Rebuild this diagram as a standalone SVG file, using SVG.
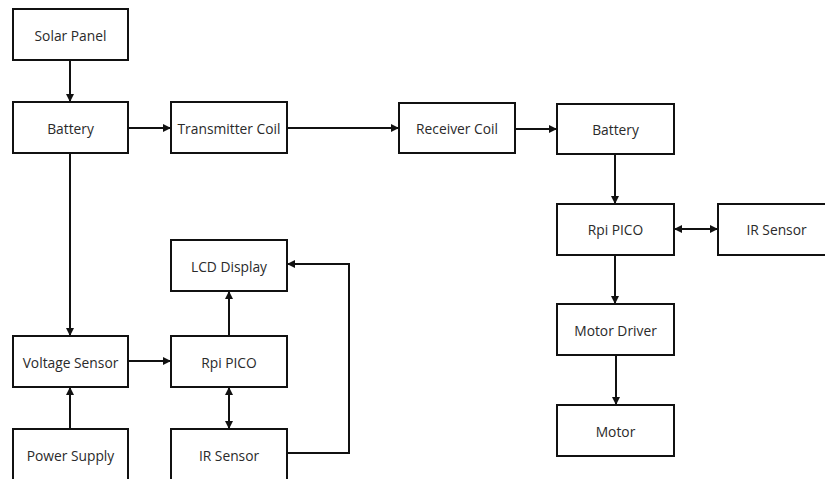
<svg xmlns="http://www.w3.org/2000/svg" width="825" height="479" viewBox="0 0 825 479">
  <style>
    .box { fill: #ffffff; stroke: #111111; stroke-width: 2; }
    .lbl { font-family: "Open Sans", "Liberation Sans", sans-serif; font-size: 13.8px; fill: #2a2a2a; text-anchor: middle; dominant-baseline: central; }
    .con { fill: none; stroke: #111111; stroke-width: 2; }
  </style>
  <defs>
    <marker id="ah" markerUnits="userSpaceOnUse" viewBox="0 0 8 8" refX="8" refY="4" markerWidth="8" markerHeight="8" orient="auto-start-reverse">
      <path d="M0,0 L8,4 L0,8 z" fill="#111111"/>
    </marker>
  </defs>
  <rect width="825" height="479" fill="#ffffff"/>

  <g id="connectors">
    <line class="con" x1="70" y1="60" x2="70" y2="102" marker-end="url(#ah)"/>
    <line class="con" x1="128" y1="128" x2="171" y2="128" marker-end="url(#ah)"/>
    <line class="con" x1="287" y1="128" x2="399" y2="128" marker-end="url(#ah)"/>
    <line class="con" x1="515" y1="129" x2="557" y2="129" marker-end="url(#ah)"/>
    <line class="con" x1="615" y1="154" x2="615" y2="204" marker-end="url(#ah)"/>
    <line class="con" x1="674" y1="229" x2="718" y2="229" marker-start="url(#ah)" marker-end="url(#ah)"/>
    <line class="con" x1="615" y1="255" x2="615" y2="304" marker-end="url(#ah)"/>
    <line class="con" x1="616" y1="355" x2="616" y2="405" marker-end="url(#ah)"/>
    <line class="con" x1="70" y1="153" x2="70" y2="336" marker-end="url(#ah)"/>
    <line class="con" x1="128" y1="361" x2="171" y2="361" marker-end="url(#ah)"/>
    <line class="con" x1="229" y1="336" x2="229" y2="291" marker-end="url(#ah)"/>
    <line class="con" x1="229" y1="387" x2="229" y2="429" marker-start="url(#ah)" marker-end="url(#ah)"/>
    <line class="con" x1="70" y1="429" x2="70" y2="387" marker-end="url(#ah)"/>
    <polyline class="con" points="287,453 349,453 349,264 287,264" marker-end="url(#ah)"/>
  </g>

  <g id="solar-panel"><rect class="box" x="13" y="9" width="115" height="51"/><text class="lbl" x="70.5" y="35">Solar Panel</text></g>
  <g id="battery-left"><rect class="box" x="13" y="102" width="115" height="51"/><text class="lbl" x="70.5" y="128">Battery</text></g>
  <g id="transmitter-coil"><rect class="box" x="171" y="102" width="116" height="51"/><text class="lbl" x="229" y="128">Transmitter Coil</text></g>
  <g id="receiver-coil"><rect class="box" x="399" y="103" width="116" height="50"/><text class="lbl" x="457" y="128">Receiver Coil</text></g>
  <g id="battery-right"><rect class="box" x="557" y="104" width="117" height="50"/><text class="lbl" x="615.5" y="129">Battery</text></g>
  <g id="rpi-pico-right"><rect class="box" x="557" y="204" width="117" height="51"/><text class="lbl" x="615.5" y="229">Rpi PICO</text></g>
  <g id="ir-sensor-right"><rect class="box" x="718" y="204" width="117" height="51"/><text class="lbl" x="776.5" y="229">IR Sensor</text></g>
  <g id="motor-driver"><rect class="box" x="557" y="304" width="117" height="51"/><text class="lbl" x="615.5" y="330">Motor Driver</text></g>
  <g id="motor"><rect class="box" x="557" y="405" width="117" height="51"/><text class="lbl" x="615.5" y="431">Motor</text></g>
  <g id="lcd-display"><rect class="box" x="171" y="240" width="116" height="51"/><text class="lbl" x="229" y="266">LCD Display</text></g>
  <g id="voltage-sensor"><rect class="box" x="13" y="336" width="115" height="51"/><text class="lbl" x="70.5" y="362">Voltage Sensor</text></g>
  <g id="rpi-pico-left"><rect class="box" x="171" y="336" width="116" height="51"/><text class="lbl" x="229" y="362">Rpi PICO</text></g>
  <g id="power-supply"><rect class="box" x="13" y="429" width="115" height="55"/><text class="lbl" x="70.5" y="455">Power Supply</text></g>
  <g id="ir-sensor-left"><rect class="box" x="171" y="429" width="116" height="55"/><text class="lbl" x="229" y="455">IR Sensor</text></g>
</svg>
